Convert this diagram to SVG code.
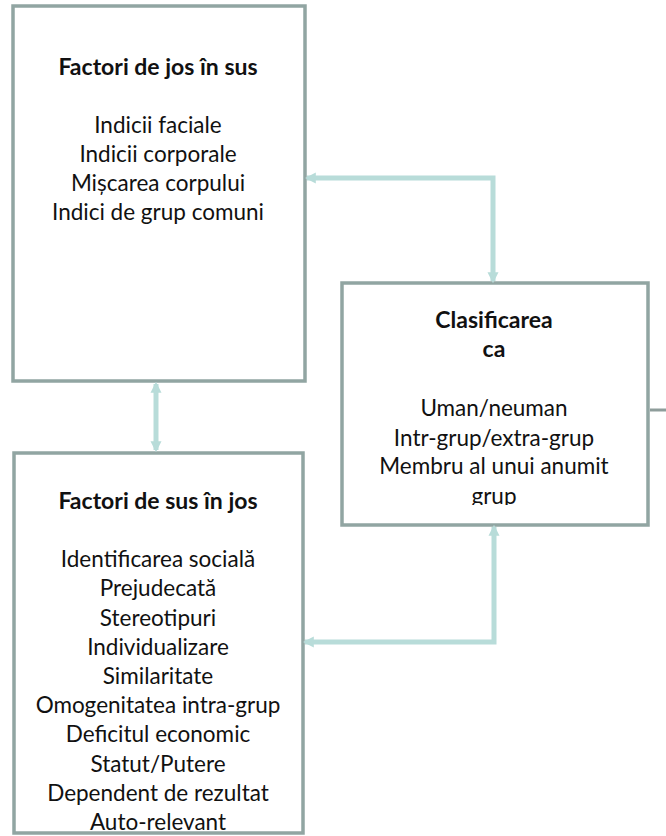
<svg xmlns="http://www.w3.org/2000/svg" width="666" height="836" viewBox="0 0 666 836">
<defs>
<style>
.box{fill:#fff;stroke:#91a5a2;stroke-width:3.5}
.t{font-family:Lato,"Open Sans","Liberation Sans",sans-serif;font-size:22.5px;fill:#111;text-anchor:middle}
.b{font-weight:bold;font-size:23px}
.con{fill:none;stroke:#b8dcd9;stroke-width:5}
</style>
<marker id="ah" viewBox="0 0 10 10" refX="8" refY="5" markerWidth="11" markerHeight="15" markerUnits="userSpaceOnUse" orient="auto-start-reverse">
<path d="M0,0 L10,5 L0,10 z" fill="#b8dcd9"/>
</marker>
<clipPath id="c3"><rect x="342" y="283" width="306" height="222"/></clipPath>
</defs>
<rect width="666" height="836" fill="#fff"/>
<g id="n1">
<rect class="box" x="13" y="6" width="292" height="375"/>
<text class="t b" x="158" y="75">Factori de jos în sus</text>
<text class="t" x="158" y="133">Indicii faciale</text>
<text class="t" x="158" y="162">Indicii corporale</text>
<text class="t" x="158" y="191">Mișcarea corpului</text>
<text class="t" x="158" y="220">Indici de grup comuni</text>
</g>
<g id="n2">
<rect class="box" x="14" y="453" width="289" height="380"/>
<text class="t b" x="158" y="509">Factori de sus în jos</text>
<text class="t" x="158" y="567">Identificarea socială</text>
<text class="t" x="158" y="596">Prejudecată</text>
<text class="t" x="158" y="626">Stereotipuri</text>
<text class="t" x="158" y="655">Individualizare</text>
<text class="t" x="158" y="684">Similaritate</text>
<text class="t" x="158" y="713">Omogenitatea intra-grup</text>
<text class="t" x="158" y="742">Deficitul economic</text>
<text class="t" x="158" y="772">Statut/Putere</text>
<text class="t" x="158" y="801">Dependent de rezultat</text>
<text class="t" x="158" y="830">Auto-relevant</text>
</g>
<g id="n3">
<rect class="box" x="342" y="283" width="306" height="242"/>
<g clip-path="url(#c3)">
<text class="t b" x="494" y="328">Clasificarea</text>
<text class="t b" x="494" y="357">ca</text>
<text class="t" x="494" y="416">Uman/neuman</text>
<text class="t" x="494" y="446">Intr-grup/extra-grup</text>
<text class="t" x="494" y="474">Membru al unui anumit</text>
<text class="t" x="494" y="504">grup</text>
</g>
</g>
<g id="connectors">
<path class="con" d="M493 281 V178 H307" marker-start="url(#ah)" marker-end="url(#ah)"/>
<path class="con" d="M156 384 V450" marker-start="url(#ah)" marker-end="url(#ah)"/>
<path class="con" d="M494 527 V642 H305" marker-start="url(#ah)" marker-end="url(#ah)"/>
<path d="M650 410 H666" fill="none" stroke="#8e9d9b" stroke-width="3"/>
</g>
</svg>
